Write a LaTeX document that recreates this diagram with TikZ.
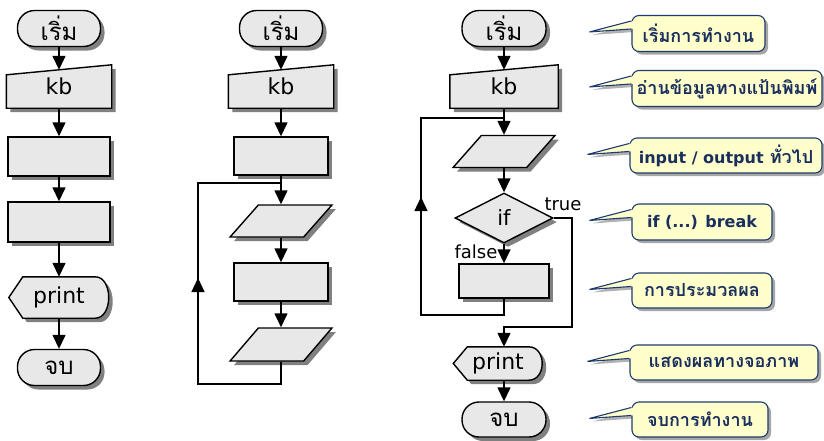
\documentclass[tikz,border=0pt]{standalone}
\usepackage{fontspec}
\setmainfont{DejaVu Sans}
\newfontfamily\thai[Script=Thai]{Loma}
\usetikzlibrary{arrows.meta,shapes.geometric,shadows,backgrounds}

\definecolor{boxgray}{HTML}{E8E8E8}
\definecolor{notefill}{HTML}{FFFFCC}
\definecolor{noteline}{HTML}{1F3A6E}
\definecolor{notetext}{HTML}{1A2F5E}

\newcommand{\lat}[1]{{\fontspec{DejaVu Sans}\bfseries\fontsize{16}{18}\selectfont #1}}

\tikzset{
  flow/.style={line width=1.4pt},
  arr/.style={flow,-{Triangle[width=13pt,length=14pt]}},
  boxshadow/.style={drop shadow={shadow xshift=4pt,shadow yshift=-4pt,fill=black!50,opacity=1}},
  term/.style={boxshadow,draw,flow,fill=boxgray,rectangle,rounded corners=17pt,
    minimum width=83pt,minimum height=36pt,font=\thai\fontsize{24}{26}\selectfont},
  proc/.style={boxshadow,draw,flow,fill=boxgray,rectangle,minimum width=102pt,minimum height=39pt},
  io/.style={boxshadow,draw,flow,fill=boxgray,trapezium,trapezium left angle=58,
    trapezium right angle=122,trapezium stretches=true,minimum width=102pt,minimum height=32pt},
  decide/.style={boxshadow,draw,flow,fill=boxgray,diamond,minimum width=98pt,minimum height=50pt,
    inner sep=0pt,font=\fontsize{21}{23}\selectfont},
  ghost/.style={rectangle,inner sep=0pt,font=\fontsize{22}{24}\selectfont},
  tag/.style={inner sep=0pt,font=\fontsize{18}{20}\selectfont},
  notebox/.style={draw=noteline,line width=1.1pt,fill=notefill,rounded corners=7pt,
    minimum height=36pt,text=notetext,font=\thai\bfseries\fontsize{18}{20}\selectfont,
    drop shadow={shadow xshift=3pt,shadow yshift=-3pt,fill=black!35,opacity=1}},
}

\begin{document}
\begin{tikzpicture}[x=1pt,y=-1pt]
  \useasboundingbox (0,0) rectangle (824,440);

  % left: plain sequence
  \node[term] (s1) at (59,28.5) {เริ่ม};
  \node[ghost,minimum width=105pt,minimum height=43pt] (kb1) at (59,86.5) {kb};
  \node[proc] (r1a) at (59,156.5) {};
  \node[proc,minimum height=40pt] (r1b) at (59,222) {};
  \node[ghost,minimum width=100pt,minimum height=41pt] (pr1) at (59,297.5) {print};
  \node[term] (e1) at (59,367.5) {จบ};

  \draw[arr] (s1.south) -- ([yshift=-5pt]kb1.north);
  \draw[arr] (kb1.south) -- (r1a.north);
  \draw[arr] (r1a.south) -- (r1b.north);
  \draw[arr] (r1b.south) -- (pr1.north);
  \draw[arr] (pr1.south) -- (e1.north);

  % middle: endless loop
  \node[term] (s2) at (281,28.5) {เริ่ม};
  \node[ghost,minimum width=105pt,minimum height=43pt] (kb2) at (281,86.5) {kb};
  \node[proc,minimum width=94pt,minimum height=38pt] (r2a) at (281,156) {};
  \node[io] (p2a) at (281,221) {};
  \node[proc,minimum width=94pt,minimum height=38pt] (r2b) at (281,282) {};
  \node[io,minimum height=33pt] (p2b) at (281,344.5) {};
  \coordinate (j2) at (198,183);
  \coordinate (b2) at (198,384);
  \coordinate (m2) at (198,278);

  \draw[arr] (s2.south) -- ([yshift=-5pt]kb2.north);
  \draw[arr] (kb2.south) -- (r2a.north);
  \draw[arr] (r2a.south) -- (p2a.north);
  \draw[arr] (p2a.south) -- (r2b.north);
  \draw[arr] (r2b.south) -- (p2b.north);
  \draw[flow] (p2b.south) |- (b2) -- (j2) -- (j2 -| r2a.south);
  \draw[arr] (b2) -- (m2);

  % right: loop with break
  \node[term,minimum width=84pt] (s3) at (504,28.5) {เริ่ม};
  \node[ghost,minimum width=108pt,minimum height=43pt] (kb3) at (504,86.5) {kb};
  \node[io] (p3) at (504,151.5) {};
  \node[decide] (d3) at (504,218) {if};
  \node[proc,minimum width=90pt,minimum height=34pt] (r3) at (504,281) {};
  \node[ghost,minimum width=89pt,minimum height=33pt] (pr3) at (498,363.5) {print};
  \node[term,minimum width=84pt,minimum height=35pt] (e3) at (504,419.5) {จบ};
  \node[tag] (yes) at (563,204) {true};
  \node[tag] (no) at (476,252) {false};
  \coordinate (j3) at (421,118);
  \coordinate (b3) at (421,315);
  \coordinate (m3) at (421,197);
  \coordinate (c3) at (572,327);

  \draw[arr] (s3.south) -- ([yshift=-5pt]kb3.north);
  \draw[arr] (kb3.south) -- (p3.north);
  \draw[arr] (p3.south) -- (d3.north);
  \draw[arr] (d3.south) -- (r3.north);
  \draw[arr] (d3.east) -| (c3) -- (c3 -| d3.south) -- (d3.south |- pr3.north);
  \draw[arr] (pr3.south -| e3.north) -- (e3.north);
  \draw[flow] (r3.south) |- (b3) -- (j3) -- (j3 -| p3.north);
  \draw[arr] (b3) -- (m3);

  % callouts
  \node[notebox,minimum width=133pt] (n1) at (698.5,33.5) {เริ่มการทำงาน};
  \node[notebox,minimum width=190pt] (n2) at (727,88.5) {อ่านข้อมูลทางแป้นพิมพ์};
  \node[notebox,minimum width=192pt,minimum height=35pt] (n3) at (726,155.5) {\lat{input / output} ทั่วไป};
  \node[notebox,minimum width=140pt] (n4) at (702,222) {\lat{if (...) break}};
  \node[notebox,minimum width=140pt,minimum height=35pt] (n5) at (702,290.5) {การประมวลผล};
  \node[notebox,minimum width=188pt,minimum height=35pt] (n6) at (724,362.5) {แสดงผลทางจอภาพ};
  \node[notebox,minimum width=136pt,minimum height=35pt] (n7) at (700,419.5) {จบการทำงาน};

  % sloped-top and display shapes, pointer shadows
  \begin{scope}[on background layer]
    \foreach \k in {kb1,kb2,kb3}
      \filldraw[boxshadow,flow,fill=boxgray] (\k.south west) -- (\k.south east)
        -- (\k.north east) -- ([yshift=-10pt]\k.north west) -- cycle;
    \foreach \p in {pr1,pr3}
      \filldraw[boxshadow,flow,fill=boxgray] (\p.west) -- ([xshift=14pt]\p.north west)
        -- ([xshift=-14pt]\p.north east)
        .. controls ([xshift=4pt]\p.north east) and ([xshift=4pt]\p.south east)
        .. ([xshift=-14pt]\p.south east) -- ([xshift=14pt]\p.south west) -- cycle;
    \foreach \n in {n1,n2,n3,n4,n5,n6,n7}
      \fill[black!30] ([xshift=3pt,yshift=-9pt]\n.north west)
        -- ([xshift=-39pt,yshift=-20pt]\n.north west)
        -- ([xshift=3pt,yshift=-17pt]\n.north west) -- cycle;
  \end{scope}

  \foreach \n in {n1,n2,n3,n4,n5,n6,n7} {
    \fill[notefill] ([xshift=1.5pt,yshift=-6pt]\n.north west)
      -- ([xshift=-42pt,yshift=-17pt]\n.north west)
      -- ([xshift=1.5pt,yshift=-14pt]\n.north west) -- cycle;
    \draw[noteline,line width=1.1pt] ([yshift=-6pt]\n.north west)
      -- ([xshift=-42pt,yshift=-17pt]\n.north west) -- ([yshift=-14pt]\n.north west);
  }
\end{tikzpicture}
\end{document}
